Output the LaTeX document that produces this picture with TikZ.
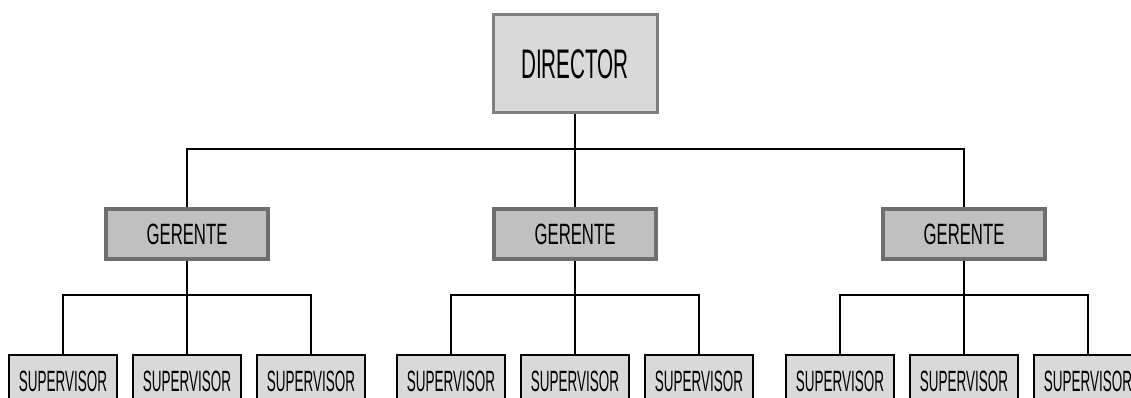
\documentclass[tikz,border=0pt]{standalone}
\usepackage{fontspec}
\newfontfamily\dirfont[FakeStretch=0.5]{Liberation Sans}
\newfontfamily\gerfont[FakeStretch=0.57]{Liberation Sans}
\newfontfamily\supfont[FakeStretch=0.46]{Liberation Sans}
\usetikzlibrary{positioning}

\definecolor{boxlight}{HTML}{D9D9D9}
\definecolor{boxdark}{HTML}{C0C0C0}
\definecolor{edgegray}{HTML}{7F7F7F}
\definecolor{edgedark}{HTML}{6E6E6E}

\tikzset{
    director/.style={draw=edgegray, line width=2.25pt, fill=boxlight, minimum width=123pt, minimum height=73.5pt, inner sep=0pt, font=\dirfont\fontsize{31}{32}\selectfont},
    manager/.style={draw=edgedark, line width=3pt, fill=boxdark, minimum width=122pt, minimum height=37.5pt, inner sep=0pt, font=\gerfont\fontsize{22}{23}\selectfont},
    supervisorbox/.style={draw=black, line width=1.1pt, fill=boxlight, minimum width=81pt, minimum height=39pt, inner sep=0pt, font=\supfont\fontsize{22}{23}\selectfont},
    link/.style={draw=black, line width=1.5pt}
}

\begin{document}
\begin{tikzpicture}[x=0.75pt, y=-0.75pt]
    \clip (0,0) rectangle (1131,398);
    \useasboundingbox (0,0) rectangle (1131,398);
    % top
    \node[director](dir) at (575,64) {DIRECTOR};
    % managers
    \node[manager](g1) at (187,234) {GERENTE};
    \node[manager](g2) at (575,234) {GERENTE};
    \node[manager](g3) at (964,234) {GERENTE};
    % supervisors
    \node[supervisorbox](s11) at (63,381) {SUPERVISOR};
    \node[supervisorbox](s12) at (187,381) {SUPERVISOR};
    \node[supervisorbox](s13) at (311,381) {SUPERVISOR};
    \node[supervisorbox](s21) at (451,381) {SUPERVISOR};
    \node[supervisorbox](s22) at (575,381) {SUPERVISOR};
    \node[supervisorbox](s23) at (699,381) {SUPERVISOR};
    \node[supervisorbox](s31) at (840,381) {SUPERVISOR};
    \node[supervisorbox](s32) at (964,381) {SUPERVISOR};
    \node[supervisorbox](s33) at (1088,381) {SUPERVISOR};
    % bus points
    \coordinate (bd) at (575,149);
    \coordinate (b1) at (187,295);
    \coordinate (b2) at (575,295);
    \coordinate (b3) at (964,295);
    % links
    \path[link]
        (dir.south) -- (bd)
        (g1.north) |- (bd)
        (g2.north) -- (bd)
        (g3.north) |- (bd)
        (g1.south) -- (b1)
        (s11.north) |- (b1)
        (s12.north) -- (b1)
        (s13.north) |- (b1)
        (g2.south) -- (b2)
        (s21.north) |- (b2)
        (s22.north) -- (b2)
        (s23.north) |- (b2)
        (g3.south) -- (b3)
        (s31.north) |- (b3)
        (s32.north) -- (b3)
        (s33.north) |- (b3)
        ;
\end{tikzpicture}
\end{document}
